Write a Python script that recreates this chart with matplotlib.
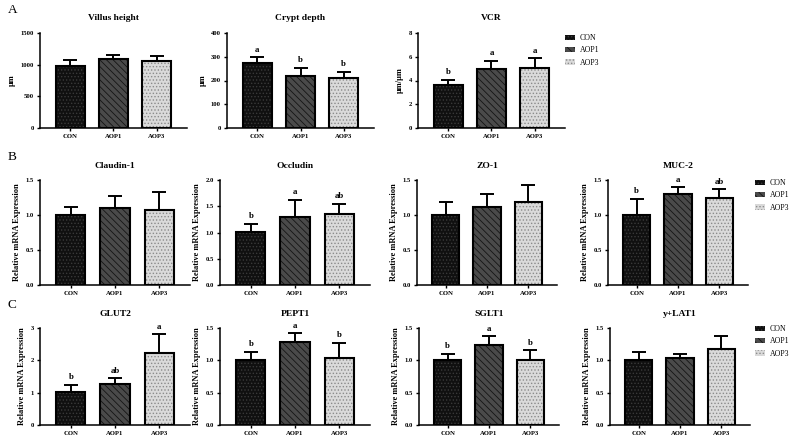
import matplotlib
matplotlib.use("Agg")
import matplotlib.pyplot as plt
from matplotlib.patches import Patch

plt.rcParams['font.family'] = ['Liberation Serif', 'DejaVu Serif']
plt.rcParams['hatch.linewidth'] = 0.6

groups = ['CON', 'AOP1', 'AOP3']

villus_mean = [980, 1082, 1062]
villus_err = [90, 75, 68]
crypt_mean = [275, 220, 212]
crypt_err = [24, 33, 25]
vcr_mean = [3.58, 4.95, 5.03]
vcr_err = [0.50, 0.70, 0.86]

claudin_mean = [1.00, 1.10, 1.07]
claudin_err = [0.12, 0.17, 0.26]
occludin_mean = [1.01, 1.30, 1.36]
occludin_err = [0.16, 0.32, 0.19]
zo1_mean = [1.00, 1.11, 1.18]
zo1_err = [0.19, 0.19, 0.25]
muc2_mean = [1.00, 1.30, 1.24]
muc2_err = [0.23, 0.10, 0.13]

glut2_mean = [1.02, 1.26, 2.22]
glut2_err = [0.22, 0.19, 0.58]
pept1_mean = [1.00, 1.28, 1.04]
pept1_err = [0.13, 0.14, 0.23]
sglt1_mean = [1.01, 1.24, 1.01]
sglt1_err = [0.09, 0.13, 0.15]
ylat1_mean = [1.00, 1.03, 1.18]
ylat1_err = [0.13, 0.07, 0.19]

crypt_sig = ['a', 'b', 'b']
vcr_sig = ['b', 'a', 'a']
occludin_sig = ['b', 'a', 'ab']
muc2_sig = ['b', 'a', 'ab']
glut2_sig = ['b', 'ab', 'a']
pept1_sig = ['b', 'a', 'b']
sglt1_sig = ['b', 'a', 'b']

W, H = 791, 438
fig = plt.figure(figsize=(W / 100, H / 100), dpi=100)

styles = [
    dict(face='#101010', hatch='.....', hcol='#3a3a3a'),
    dict(face='#4a4a4a', hatch='\\\\\\\\\\', hcol='#151515'),
    dict(face='#dadada', hatch='.....', hcol='#8a8a8a'),
]


def rect(x0, top, w, h):
    return [x0 / W, 1 - (top + h) / H, w / W, h / H]


def panel(x0, top, w, h, title, means, errs, ylabel, ymax, yticks, yfmt, sig=None):
    ax = fig.add_axes(rect(x0, top, w, h))
    xs = list(range(len(groups)))
    for i in xs:
        st = styles[i]
        ax.bar(i, means[i], width=0.66, color=st['face'], edgecolor=st['hcol'],
               hatch=st['hatch'], linewidth=0, zorder=2)
        ax.bar(i, means[i], width=0.66, facecolor='none', edgecolor='black',
               linewidth=1.5, zorder=3)
    ax.errorbar(xs, means, yerr=[[0] * len(errs), errs], fmt='none', ecolor='black',
                elinewidth=1.4, capsize=5.0, capthick=1.4, zorder=1)
    if sig:
        for i in xs:
            ax.annotate(sig[i], (i, means[i] + errs[i]), xytext=(0, 2.5),
                        textcoords='offset points', ha='center', va='bottom',
                        fontsize=6.4, fontweight='bold')
    ax.set_xlim(-0.7, 2.7)
    ax.set_ylim(0, ymax)
    ax.set_yticks(yticks)
    ax.set_yticklabels([yfmt.format(t) for t in yticks], fontsize=4.8, fontweight='bold')
    ax.set_xticks(xs)
    ax.set_xticklabels(groups, fontsize=4.8, fontweight='bold')
    for s in ['top', 'right']:
        ax.spines[s].set_visible(False)
    for s in ['left', 'bottom']:
        ax.spines[s].set_linewidth(1.1)
    ax.tick_params(axis='both', length=2.5, width=1.0, pad=2)
    ax.set_title(title, fontsize=6.8, fontweight='bold', pad=9)
    ax.set_ylabel(ylabel, fontsize=6.0, fontweight='bold', labelpad=3)
    return ax


def legend(x, y):
    handles = [Patch(facecolor=s['face'], edgecolor=s['hcol'], hatch=s['hatch'], linewidth=0)
               for s in styles]
    fig.legend(handles, groups, loc='upper left', bbox_to_anchor=(x / W, 1 - y / H),
               frameon=False, fontsize=5.6, handlelength=1.3, handleheight=0.7,
               labelspacing=0.55, handletextpad=0.6, borderaxespad=0, borderpad=0)


rel = 'Relative mRNA Expression'
f1 = '{:.1f}'
f0 = '{:.0f}'

# Row A
panel(40, 33, 147, 95, 'Villus height', villus_mean, villus_err, 'μm', 1500, [0, 500, 1000, 1500], f0)
panel(227, 33, 147, 95, 'Crypt depth', crypt_mean, crypt_err, 'μm', 400, [0, 100, 200, 300, 400], f0, crypt_sig)
panel(418, 33, 147, 95, 'VCR', vcr_mean, vcr_err, 'μm/μm', 8, [0, 2, 4, 6, 8], f0, vcr_sig)
legend(565, 34)

# Row B
panel(40, 180, 150, 105, 'Claudin-1', claudin_mean, claudin_err, rel, 1.5, [0, 0.5, 1.0, 1.5], f1)
panel(220, 180, 150, 105, 'Occludin', occludin_mean, occludin_err, rel, 2.0, [0, 0.5, 1.0, 1.5, 2.0], f1, occludin_sig)
panel(417, 180, 140, 105, 'ZO-1', zo1_mean, zo1_err, rel, 1.5, [0, 0.5, 1.0, 1.5], f1)
panel(608, 180, 140, 105, 'MUC-2', muc2_mean, muc2_err, rel, 1.5, [0, 0.5, 1.0, 1.5], f1, muc2_sig)
legend(755, 179)

# Row C
panel(40, 328, 150, 97, 'GLUT2', glut2_mean, glut2_err, rel, 3, [0, 1, 2, 3], f0, glut2_sig)
panel(220, 328, 150, 97, 'PEPT1', pept1_mean, pept1_err, rel, 1.5, [0, 0.5, 1.0, 1.5], f1, pept1_sig)
panel(419, 328, 140, 97, 'SGLT1', sglt1_mean, sglt1_err, rel, 1.5, [0, 0.5, 1.0, 1.5], f1, sglt1_sig)
panel(610, 328, 140, 97, 'y+LAT1', ylat1_mean, ylat1_err, rel, 1.5, [0, 0.5, 1.0, 1.5], f1)
legend(755, 325)

fig.text(8 / W, 1 - 10 / H, 'A', fontsize=9.5, va='center', ha='left')
fig.text(8 / W, 1 - 157 / H, 'B', fontsize=9.5, va='center', ha='left')
fig.text(8 / W, 1 - 305 / H, 'C', fontsize=9.5, va='center', ha='left')

fig.savefig('out.png', dpi=100, facecolor='white')
